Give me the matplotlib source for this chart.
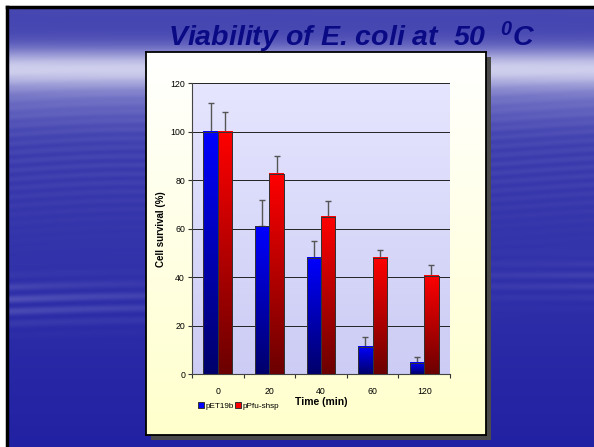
import numpy as np
import matplotlib.pyplot as plt
from matplotlib.patches import Rectangle

# Data
times = ['0', '20', '40', '60', '120']
pet19b = [100, 61, 48, 11.5, 4.7]
pet19b_err = [12, 11, 7, 3.8, 2.4]
pfu_shsp = [100, 82.5, 65, 48, 40.6]
pfu_shsp_err = [8.3, 7.5, 6.3, 3.2, 4.5]
yticks = [0, 20, 40, 60, 80, 100, 120]

plt.rcParams['mathtext.fontset'] = 'custom'
plt.rcParams['mathtext.rm'] = 'Liberation Sans:italic:bold'
plt.rcParams['mathtext.it'] = 'Liberation Sans:italic:bold'

W, H = 594, 447
fig = plt.figure(figsize=(W / 100, H / 100), dpi=100)
fig.patch.set_facecolor('white')


def fx(px):
    return px / W


def fy(py):
    return 1 - py / H


# Slide background: blue with soft horizontal light streaks
bg = fig.add_axes([fx(8), 0, 1 - fx(8), fy(8)], zorder=0)
bg.set_axis_off()
yy = np.linspace(0, 1, 440)[:, None]
xx = np.linspace(0, 1, 586)[None, :]
band = np.exp(-((yy - 0.135) / 0.045) ** 2) * 0.8
band += np.exp(-((yy - 0.20) / 0.07) ** 2) * 0.25
streak = 0.06 * (0.5 + 0.5 * np.sin(yy * 310 + 4 * np.sin(xx * 7))) * np.exp(-((yy - 0.33) / 0.15) ** 2)
streak += 0.20 * (0.5 + 0.5 * np.sin(yy * 220 + 2 * np.sin(xx * 5))) * np.exp(-((yy - 0.67) / 0.05) ** 2) * (1 - xx) ** 2
streak += 0.10 * (0.5 + 0.5 * np.sin(yy * 240)) * np.exp(-((yy - 0.62) / 0.05) ** 2) * xx ** 2
light = np.clip(band + streak, 0, 1)
base_top = np.array([0.28, 0.28, 0.70])
base_bot = np.array([0.13, 0.13, 0.64])
base = base_top * (1 - yy[..., None]) + base_bot * yy[..., None]
white = np.array([0.86, 0.86, 0.95])
img = base * (1 - light[..., None]) + white * light[..., None]
bg.imshow(img, aspect='auto', extent=[0, 1, 0, 1])

border = fig.add_axes([fx(7), -0.1, 1, fy(7) + 0.1], zorder=5)
border.patch.set_visible(False)
border.set_xticks([])
border.set_yticks([])
for sp in border.spines.values():
    sp.set_linewidth(2.5)
    sp.set_color('black')

# Title
fig.text(fx(352), fy(37), 'Viability of E. coli at  50  $^{0}$C', ha='center', va='center',
         fontsize=20.5, fontweight='bold', fontstyle='italic', color='#0a0a85',
         family='Liberation Sans', zorder=6)

# Card with shadow
cx0, cy0, cx1, cy1 = 146, 52, 486, 435
shadow = fig.add_axes([fx(cx0 + 5), fy(cy1 + 5), fx(cx1 - cx0), (cy1 - cy0) / H], zorder=1)
shadow.set_axis_off()
shadow.add_patch(Rectangle((0, 0), 1, 1, transform=shadow.transAxes, facecolor='#4a4a4a', edgecolor='none'))
card = fig.add_axes([fx(cx0), fy(cy1), fx(cx1 - cx0), (cy1 - cy0) / H], zorder=2)
cg = np.linspace(0, 1, 256)[:, None, None]
card_img = np.array([1.0, 1.0, 1.0]) * (1 - cg) + np.array([1.0, 1.0, 0.80]) * cg
card.imshow(card_img, aspect='auto', extent=[0, 1, 0, 1])
card.set_xticks([])
card.set_yticks([])
for sp in card.spines.values():
    sp.set_linewidth(1.3)
    sp.set_color('black')

# Chart
ax = fig.add_axes([fx(192), fy(374.4), fx(450 - 192), (374.4 - 83.3) / H], zorder=3)
pg = np.linspace(0, 1, 256)[:, None, None]
plot_img = np.array([0.90, 0.90, 1.0]) * (1 - pg) + np.array([0.80, 0.80, 0.96]) * pg
ax.imshow(plot_img, aspect='auto', extent=[0, len(times), 0, 120], zorder=0)

x = np.arange(len(times)) + 0.5
w = 0.28
bars1 = ax.bar(x - w / 2, pet19b, w, color='#0000ff', edgecolor='#333333', linewidth=0.7, zorder=3)
bars2 = ax.bar(x + w / 2, pfu_shsp, w, color='#ff0000', edgecolor='#333333', linewidth=0.7, zorder=3)


def shade(bars, top, bot):
    g = np.linspace(0, 1, 128)[:, None, None]
    grad = np.array(top) * (1 - g) + np.array(bot) * g
    for b in bars:
        ax.imshow(grad, aspect='auto', zorder=3.5,
                  extent=[b.get_x(), b.get_x() + b.get_width(), 0, b.get_height()])
        ax.add_patch(Rectangle((b.get_x(), 0), b.get_width(), b.get_height(), fill=False,
                               edgecolor='#333333', linewidth=0.7, zorder=4))


shade(bars1, [0.0, 0.0, 1.0], [0.0, 0.0, 0.42])
shade(bars2, [1.0, 0.0, 0.0], [0.42, 0.0, 0.0])
ax.set_xlim(0, len(times))
ax.set_ylim(0, 120)

ax.errorbar(x - w / 2, pet19b, yerr=[np.zeros(len(times)), pet19b_err], fmt='none',
            ecolor='#555555', elinewidth=1, capsize=2.5, capthick=1, zorder=2.5)
ax.errorbar(x + w / 2, pfu_shsp, yerr=[np.zeros(len(times)), pfu_shsp_err], fmt='none',
            ecolor='#555555', elinewidth=1, capsize=2.5, capthick=1, zorder=2.5)

ax.set_yticks(yticks)
ax.set_yticklabels([str(t) for t in yticks], fontsize=6.3, family='Liberation Sans')
ax.set_xticks(np.arange(len(times) + 1))
ax.set_xticklabels([])
ax.set_xticks(x, minor=True)
ax.set_xticklabels(times, minor=True, fontsize=6.3, family='Liberation Sans')
ax.tick_params(axis='x', which='minor', length=0, pad=9)
ax.tick_params(axis='x', which='major', length=3, color='#333333', direction='out')
ax.tick_params(axis='y', length=3, color='#333333', pad=2)
ax.yaxis.grid(True, color='#222222', linewidth=0.7, zorder=1)
ax.set_axisbelow(True)
for sp in ['top', 'right']:
    ax.spines[sp].set_visible(False)
ax.spines['left'].set_color('#444444')
ax.spines['bottom'].set_color('#444444')
ax.set_ylabel('Cell survival (%)', fontsize=7, fontweight='bold', family='Liberation Sans', labelpad=3)
ax.set_xlabel('Time (min)', fontsize=7.5, fontweight='bold', family='Liberation Sans', labelpad=1)

leg = fig.legend([bars1, bars2], ['pET19b', 'pPfu-shsp'], loc='center left',
                 bbox_to_anchor=(fx(193), fy(406)), ncol=2, frameon=False,
                 prop={'family': 'Liberation Sans', 'size': 5.9},
                 handlelength=0.75, handleheight=0.75, handletextpad=0.15, columnspacing=0.2,
                 borderpad=0.1)
leg.set_zorder(7)

fig.savefig('out.png', dpi=100)
